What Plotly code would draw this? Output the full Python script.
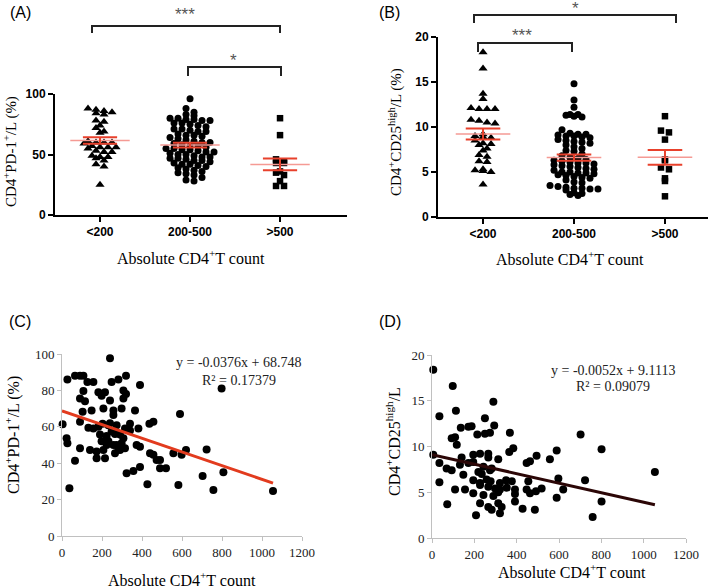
import numpy as np
import plotly.graph_objects as go

# ---------------- data ----------------
categories = ["<200", "200-500", ">500"]

# Panel A: CD4+PD-1+/L (%)
A_lt200 = [88, 87, 86, 85, 84, 83, 78, 77, 74, 72, 69, 68, 61, 60, 60, 60, 59, 57, 56, 56, 56,
           55, 53, 52, 52, 49, 48, 48, 47, 45, 42, 40, 25]
A_200_500 = [96, 88, 85, 83, 82, 80, 80, 79, 79, 78, 78, 76, 76, 75, 74, 73, 71, 71, 70, 69,
             69, 67, 66, 66, 65, 64, 63, 62, 61, 60, 60, 59, 58, 57, 57, 56, 55, 55, 54, 54,
             53, 52, 52, 51, 50, 50, 49, 48, 48, 47, 47, 46, 45, 45, 44, 43, 42, 42, 41, 40,
             39, 38, 37, 36, 35, 34, 33, 31, 29, 28]
A_gt500 = [80, 66, 46, 44, 43, 43, 36, 35, 33, 28, 24, 24]

# Panel B: CD4+CD25high/L (%)
B_lt200 = [18.3, 16.5, 13.7, 13.1, 12.1, 12.0, 12.0, 12.0, 10.8, 10.7, 10.5, 10.4, 9.2, 9.0,
           8.9, 8.8, 8.5, 8.2, 8.1, 8.0, 7.6, 7.4, 6.9, 6.7, 6.2, 6.1, 5.3, 5.2, 5.1, 5.0, 3.6]
B_200_500 = [14.8, 13.0, 12.2, 11.4, 11.4, 11.3, 11.2, 11.1, 9.7, 9.3, 9.2, 9.2, 9.1, 9.0, 9.0,
             8.9, 8.8, 8.6, 8.5, 8.4, 8.3, 8.2, 8.0, 7.8, 7.6, 7.4, 7.3, 7.0, 6.8, 6.6, 6.5,
             6.4, 6.3, 6.2, 6.1, 6.0, 6.0, 5.9, 5.8, 5.7, 5.6, 5.5, 5.4, 5.3, 5.2, 5.0, 5.0,
             4.9, 4.9, 4.8, 4.7, 4.6, 4.5, 4.4, 4.3, 4.1, 3.9, 3.8, 3.5, 3.4, 3.3, 3.2, 3.2,
             3.1, 3.1, 3.0, 2.7, 2.6, 2.5, 2.4]
B_gt500 = [11.2, 9.6, 9.4, 8.6, 6.4, 6.3, 5.5, 5.3, 4.3, 4.0, 2.3]

# Panel C: absolute CD4 count vs CD4+PD-1+/L (%)
C_count = [240, 27, 65, 90, 107, 127, 157, 248, 282, 320, 107, 182, 215, 307, 320, 390, 798,
           90, 115, 198, 240, 307, 103, 148, 207, 257, 298, 365, 257, 3, 90, 132, 157, 182,
           203, 232, 273, 315, 340, 382, 437, 457, 590, 23, 27, 190, 223, 248, 290, 307, 273,
           290, 315, 90, 140, 173, 207, 173, 215, 65, 265, 282, 373, 390, 440, 457, 473, 490,
           490, 520, 557, 598, 620, 723, 323, 357, 390, 427, 582, 703, 757, 807, 1055, 37,
           232, 257, 298, 340, 223, 198, 265, 240]
C_pd1 = [97.6, 86, 88, 88, 88, 84.6, 84.6, 84.6, 86, 88, 79.7, 79, 79, 80, 78, 83, 81,
         75.6, 74, 77, 74.5, 75.6, 68.3, 69, 70, 69, 70, 69, 66.5, 61.4, 62.8, 59.5, 59, 60,
         61.7, 60.8, 60.8, 59, 61.7, 59, 61.7, 62.8, 67, 53.7, 50.9, 55.8, 54.9, 57.4, 55.8,
         53.7, 50, 47.3, 48.2, 48.2, 47.3, 46.4, 47.3, 42.7, 42.7, 41.3, 45.5, 48.2, 50, 49.1,
         45.5, 44.6, 41.8, 41.8, 37.2, 37.2, 45.5, 44.6, 47.3, 47.5, 34.5, 35.7, 37.9, 28.4,
         28, 33, 25.3, 35, 24.7, 26.2, 52, 50, 51, 58, 50, 52, 56, 62]
C_slope, C_intercept = -0.0376, 68.748
C_eq = ["y = -0.0376x + 68.748", "R\u00b2 = 0.17379"]

# Panel D: absolute CD4 count vs CD4+CD25high/L
D_count = [6, 98, 290, 35, 113, 250, 294, 136, 172, 187, 368, 702, 214, 250, 274, 93, 109,
           117, 384, 365, 801, 589, 6, 35, 140, 195, 227, 266, 266, 313, 447, 463, 494, 557,
           132, 172, 195, 69, 93, 243, 282, 148, 219, 235, 274, 35, 195, 227, 258, 277, 321,
           350, 377, 455, 597, 723, 109, 156, 227, 266, 298, 321, 353, 392, 392, 447, 463, 491,
           518, 620, 195, 243, 290, 313, 589, 72, 227, 266, 313, 329, 392, 428, 486, 282, 321,
           208, 759, 801, 1053]
D_cd25 = [18.4, 16.6, 14.9, 13.3, 13.9, 13.1, 12.3, 12.05, 12.15, 12.2, 11.5, 11.3, 11.3, 11.4,
          11.5, 10.9, 11.0, 10.2, 9.8, 9.4, 9.7, 9.55, 9.1, 8.2, 8.8, 9.1, 9.2, 9.2, 8.8, 8.6,
          8.2, 8.4, 9.0, 8.6, 8.0, 8.2, 8.3, 7.6, 7.4, 7.8, 7.6, 6.9, 7.2, 7.0, 7.4, 6.1, 6.3,
          6.0, 6.4, 6.2, 6.0, 6.3, 6.2, 6.2, 6.5, 6.3, 5.3, 5.3, 5.8, 5.6, 5.4, 5.3, 5.5, 5.3,
          4.8, 5.3, 4.9, 5.1, 5.4, 5.3, 4.9, 4.7, 4.6, 5.0, 4.4, 3.7, 3.8, 3.4, 3.8, 3.4, 4.0,
          3.2, 3.1, 3.1, 2.7, 2.5, 2.3, 4.0, 7.2]
D_slope, D_intercept = -0.0052, 9.1113
D_eq = ["y = -0.0052x + 9.1113", "R\u00b2 = 0.09079"]

# ---------------- helpers ----------------
W, H = 709, 588
def px(x):
    return x / W
def py(y):
    return 1 - y / H

def row_swarm(vals, ppx, ppy, row_h=5.0, sep=8.0):
    """GraphPad-like layout: bin values into pixel rows, spread each row symmetrically."""
    rows = {}
    for idx, v in enumerate(vals):
        r = int(round(v * ppy / row_h))
        rows.setdefault(r, []).append(idx)
    out = [0.0] * len(vals)
    for r, idxs in rows.items():
        n = len(idxs)
        for j, idx in enumerate(idxs):
            out[idx] = (j - (n - 1) / 2.0) * sep / ppx
    return out

SERIF = "Liberation Serif, Times New Roman, serif"
SANS = "Liberation Sans, Arial, sans-serif"

fig = go.Figure()

symbols = ["triangle-up", "circle", "square"]
sizes = [8, 7, 6.5]

def dot_panel(groups, xa, ya, ppx, ppy, mean_half, sem_half):
    for i, vals in enumerate(groups):
        offs = row_swarm(vals, ppx, ppy)
        fig.add_trace(go.Scatter(
            x=[i + o for o in offs], y=vals, mode="markers", xaxis=xa, yaxis=ya,
            marker=dict(symbol=symbols[i], size=sizes[i], color="black", line=dict(width=0)),
            cliponaxis=False, hoverinfo="skip"))
    for i, vals in enumerate(groups):
        a = np.array(vals, dtype=float)
        m = a.mean()
        s = a.std(ddof=1) / np.sqrt(len(a))
        fig.add_trace(go.Scatter(
            x=[i - mean_half, i + mean_half], y=[m, m], mode="lines", xaxis=xa, yaxis=ya,
            line=dict(color="#f59a94", width=1.5), hoverinfo="skip"))
        fig.add_trace(go.Scatter(
            x=[i - sem_half, i + sem_half, None, i - sem_half, i + sem_half, None, i, i],
            y=[m + s, m + s, None, m - s, m - s, None, m - s, m + s],
            mode="lines", xaxis=xa, yaxis=ya,
            line=dict(color="#e8412c", width=2), hoverinfo="skip"))

dot_panel([A_lt200, A_200_500, A_gt500], "x", "y", 90, 1.21, 0.33, 0.19)
dot_panel([B_lt200, B_200_500, B_gt500], "x2", "y2", 91, 9.0, 0.3, 0.19)

# scatter panels
fig.add_trace(go.Scatter(x=C_count, y=C_pd1, mode="markers", xaxis="x3", yaxis="y3",
                         marker=dict(size=8, color="black"), cliponaxis=False, hoverinfo="skip"))
cx = np.array([0, max(C_count)], dtype=float)
fig.add_trace(go.Scatter(x=cx, y=C_slope * cx + C_intercept, mode="lines", xaxis="x3", yaxis="y3",
                         line=dict(color="#e23b1e", width=3), hoverinfo="skip"))
fig.add_trace(go.Scatter(x=D_count, y=D_cd25, mode="markers", xaxis="x4", yaxis="y4",
                         marker=dict(size=8, color="black"), cliponaxis=False, hoverinfo="skip"))
dx = np.array([0, max(D_count)], dtype=float)
fig.add_trace(go.Scatter(x=dx, y=D_slope * dx + D_intercept, mode="lines", xaxis="x4", yaxis="y4",
                         line=dict(color="#2b0606", width=3), hoverinfo="skip"))

bold_axis = dict(showline=True, linewidth=2, linecolor="black", ticks="outside", ticklen=5,
                 tickwidth=2, tickcolor="black", showgrid=False, zeroline=False, automargin=False,
                 tickfont=dict(family=SANS, size=12, color="black", weight="bold"))
xl_axis = dict(showline=True, linewidth=1, linecolor="#c0c0c0", ticks="outside", ticklen=4,
               tickwidth=1, tickcolor="#c0c0c0", showgrid=False, zeroline=False, automargin=False,
               tickfont=dict(family=SERIF, size=13, color="#222222"))

fig.update_layout(
    width=W, height=H, margin=dict(l=0, r=0, t=0, b=0, pad=0, autoexpand=False),
    paper_bgcolor="white", plot_bgcolor="white", showlegend=False,
    xaxis=dict(domain=[px(55), px(347)], range=[-0.5, 2.744], anchor="y",
               tickvals=[0, 1, 2], ticktext=categories, **bold_axis),
    yaxis=dict(domain=[py(215), py(94)], range=[0, 100], anchor="x",
               tickvals=[0, 50, 100], **bold_axis),
    xaxis2=dict(domain=[px(438), px(708)], range=[-0.495, 2.473], anchor="y2",
                tickvals=[0, 1, 2], ticktext=categories, **bold_axis),
    yaxis2=dict(domain=[py(217), py(37)], range=[0, 20], anchor="x2",
                tickvals=[0, 5, 10, 15, 20], **bold_axis),
    xaxis3=dict(domain=[px(62), px(302)], range=[0, 1200], anchor="y3", dtick=200, **xl_axis),
    yaxis3=dict(domain=[py(536), py(354)], range=[0, 100], anchor="x3", dtick=20, **xl_axis),
    xaxis4=dict(domain=[px(432), px(686)], range=[0, 1200], anchor="y4", dtick=200, **xl_axis),
    yaxis4=dict(domain=[py(538), py(355)], range=[0, 20], anchor="x4", dtick=5, **xl_axis),
)

ann = []
def add_text(text, x, y, size, family, angle=0, color="black", xanchor="center"):
    ann.append(dict(text=text, x=px(x), y=py(y), xref="paper", yref="paper", showarrow=False,
                    xanchor=xanchor, yanchor="middle", textangle=angle,
                    font=dict(family=family, size=size, color=color)))

xt = "Absolute CD4<sup>+</sup>T count"
add_text("(A)", 20, 13, 16, SANS)
add_text("(B)", 389, 13, 16, SANS)
add_text("(C)", 20, 321, 16, SANS)
add_text("(D)", 390, 321, 16, SANS)
add_text(xt, 191, 257, 16, SERIF)
add_text(xt, 570, 258, 16, SERIF)
add_text(xt, 182, 579, 16, SERIF)
add_text(xt, 572, 571, 16, SERIF)
add_text("CD4<sup>+</sup>PD-1<sup>+</sup>/L (%)", 10, 152, 15, SERIF, angle=-90)
add_text("CD4<sup>+</sup>CD25<sup>high</sup>/L (%)", 395, 132, 15, SERIF, angle=-90)
add_text("CD4<sup>+</sup>PD-1<sup>+</sup>/L (%)", 12, 435, 16, SERIF, angle=-90)
add_text("CD4<sup>+</sup>CD25<sup>high</sup>/L", 393, 442, 16, SERIF, angle=-90)
add_text(C_eq[0], 239, 362, 14, SERIF, color="#222222")
add_text(C_eq[1], 239, 380, 14, SERIF, color="#222222")
add_text(D_eq[0], 613, 370, 14, SERIF, color="#222222")
add_text(D_eq[1], 613, 386, 14, SERIF, color="#222222")
add_text("***", 185, 15, 17, SANS, color="#555555")
add_text("*", 233, 61, 17, SANS, color="#555555")
add_text("*", 575, 8, 17, SANS, color="#555555")
add_text("***", 522, 35, 17, SANS, color="#555555")

def bracket(x1, x2, ytop, ybot):
    return dict(type="path", xref="paper", yref="paper",
                path=f"M {px(x1)},{py(ybot)} L {px(x1)},{py(ytop)} L {px(x2)},{py(ytop)} L {px(x2)},{py(ybot)}",
                line=dict(color="#222222", width=2))

shapes = [bracket(92, 280, 26, 33), bracket(188, 281, 67, 76),
          bracket(474, 676, 15, 23), bracket(478, 572, 43, 52)]

fig.update_layout(annotations=ann, shapes=shapes)
fig.write_html("out.html", config={"displayModeBar": False},
               post_script="document.body.style.margin='0';document.body.style.padding='0';"
                           "document.body.style.overflow='hidden';")
